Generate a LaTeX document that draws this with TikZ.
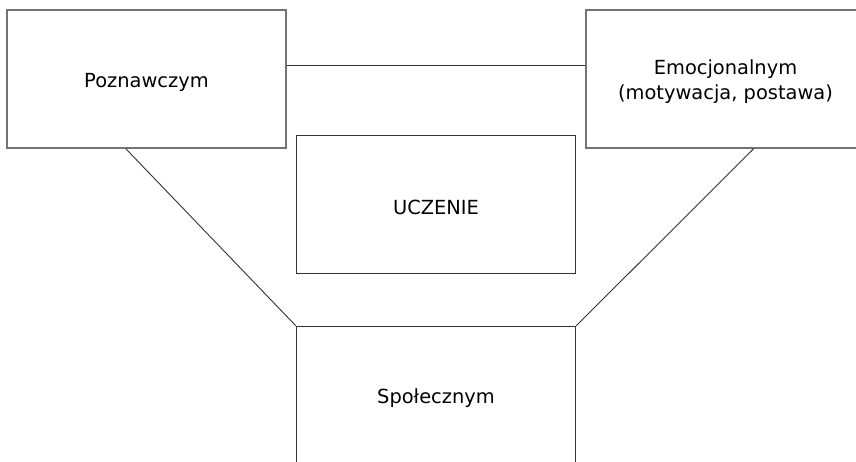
\documentclass[tikz,border=0pt]{standalone}
\usepackage{fontspec}
\setmainfont{DejaVu Sans}
\usetikzlibrary{calc}
\begin{document}
\begin{tikzpicture}[x=1bp,y=-1bp,
  box/.style={draw=black!55, line width=1.6bp, minimum width=279bp, minimum height=138bp,
    inner sep=0pt},
  dbox/.style={box, draw=black!80, line width=1.2bp},
  lbl/.style={align=center, inner sep=0pt, yshift=-3bp, font=\fontsize{19.5}{25}\selectfont},
  conn/.style={draw=black!80, line width=0.9bp}]
\useasboundingbox (0,0) rectangle (856,462);
\clip (0,0) rectangle (856,462);
\node[box, label={[lbl]center:Poznawczym}] (p) at (146.5,79) {};
\node[box, label={[lbl]center:Emocjonalnym\\(motywacja, postawa)}] (e) at (725.5,79) {};
\node[dbox, label={[lbl]center:UCZENIE}] (u) at (436,204.5) {};
\node[dbox, label={[lbl]center:Społecznym}] (s) at (436,395.5) {};
\coordinate (h1) at ($(p.north east)!0.406!(p.south east)$);
\coordinate (h2) at ($(e.north west)!0.406!(e.south west)$);
\coordinate (d1) at ($(p.south west)!0.4265!(p.south east)$);
\coordinate (d2) at ($(e.south west)!0.6!(e.south east)$);
\draw[conn] (h1) -- (h2);
\draw[conn] (d1) -- (s.north west);
\draw[conn] (d2) -- (s.north east);
\end{tikzpicture}
\end{document}
